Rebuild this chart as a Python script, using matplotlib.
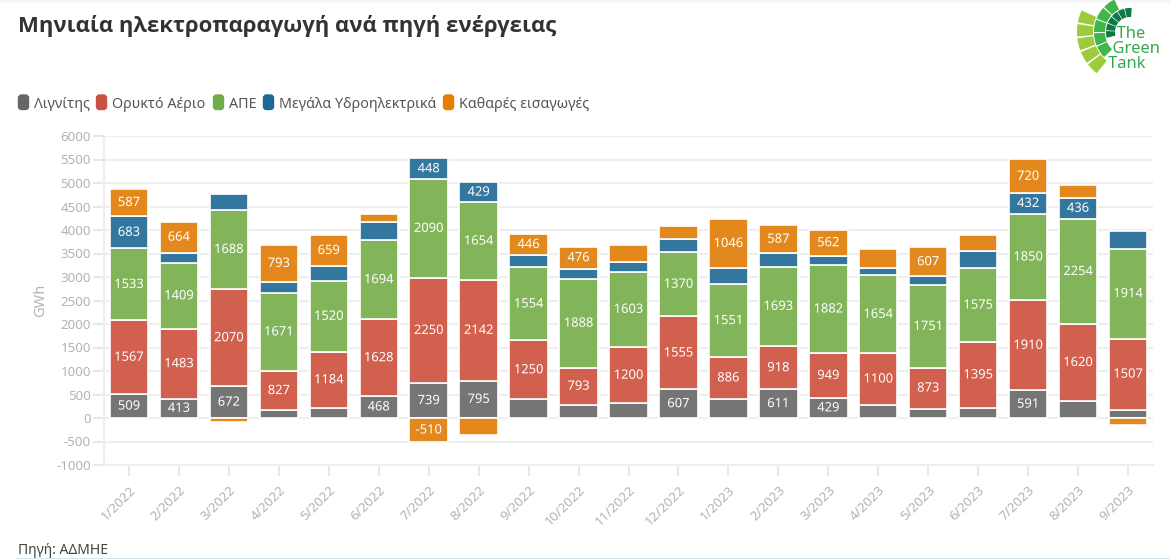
# -*- coding: utf-8 -*-
import numpy as np
import matplotlib
matplotlib.use("Agg")
import matplotlib.pyplot as plt
import matplotlib.patheffects as pe
from matplotlib.patches import FancyBboxPatch, Wedge, Rectangle

plt.rcParams['font.family'] = ['Noto Sans', 'DejaVu Sans']
plt.rcParams['axes.unicode_minus'] = False

months = ['1/2022', '2/2022', '3/2022', '4/2022', '5/2022', '6/2022', '7/2022',
          '8/2022', '9/2022', '10/2022', '11/2022', '12/2022', '1/2023', '2/2023',
          '3/2023', '4/2023', '5/2023', '6/2023', '7/2023', '8/2023', '9/2023']

lignite = [509, 413, 672, 170, 220, 468, 739, 795, 400, 280, 310, 607, 410, 611, 429, 280, 200, 220, 591, 370, 180]
gas = [1567, 1483, 2070, 827, 1184, 1628, 2250, 2142, 1250, 793, 1200, 1555, 886, 918, 949, 1100, 873, 1395, 1910, 1620, 1507]
res = [1533, 1409, 1688, 1671, 1520, 1694, 2090, 1654, 1554, 1888, 1603, 1370, 1551, 1693, 1882, 1654, 1751, 1575, 1850, 2254, 1914]
hydro = [683, 210, 336, 226, 310, 380, 448, 429, 264, 210, 206, 276, 344, 288, 187, 157, 197, 363, 432, 436, 378]
imports = [587, 664, -90, 793, 659, 170, -510, -370, 446, 476, 360, 277, 1046, 587, 562, 405, 607, 341, 720, 277, -150]

series_names = ['Λιγνίτης', 'Ορυκτό Αέριο', 'ΑΠΕ', 'Μεγάλα Υδροηλεκτρικά', 'Καθαρές εισαγωγές']
legend_colors = ['#666666', '#cd5141', '#70ad47', '#1a6a96', '#e67e00']
bar_colors = ['#757575', '#d2604f', '#82b55a', '#33779f', '#e3881c']
yticks = list(range(-1000, 6500, 500))

W, H = 1170, 559
fig = plt.figure(figsize=(W / 100, H / 100), dpi=100)

# overlay in pixel coordinates for legend, logo and page furniture
bg = fig.add_axes([0, 0, 1, 1], zorder=0)
bg.set_xlim(0, W)
bg.set_ylim(H, 0)
bg.axis('off')
bg.add_patch(Rectangle((0, 0), W, 3, color='#f7f7f7', lw=0))
bg.add_patch(Rectangle((15, 557.5), W - 15, 1.5, color='#d5e6ee', lw=0))

ax = fig.add_axes([104 / W, 1 - 465 / H, 1049 / W, 329 / H], zorder=1)
ax.patch.set_alpha(0)
ax.set_xlim(-0.5, 20.5)
ax.set_ylim(-1000, 6000)

x = np.arange(len(months))
bottom = np.zeros(len(months))
for i, values in enumerate([lignite, gas, res, hydro, imports]):
    values = np.array(values, dtype=float)
    base = np.where(values < 0, 0, bottom)
    ax.bar(x, values, 0.77, bottom=base, color=bar_colors[i], edgecolor='white',
           linewidth=1.2, zorder=3)
    for xi, v, b in zip(x, values, base):
        if abs(v) > 412:
            ax.text(xi, b + v / 2, '%d' % v, ha='center', va='center', color='white',
                    fontsize=9.3, zorder=4,
                    path_effects=[pe.withStroke(linewidth=1.5, foreground=bar_colors[i])])
    bottom = bottom + np.where(values < 0, 0, values)

ax.set_yticks(yticks)
ax.set_xticks(x)
ax.set_xticklabels(months, rotation=45, ha='right', rotation_mode='anchor')
ax.tick_params(axis='both', colors='#e8e8e8', width=1.5, length=8, labelcolor='#b3b3b3', labelsize=9.6)
ax.tick_params(axis='x', pad=5)
ax.tick_params(axis='y', pad=1.5)
ax.grid(axis='y', color='#eeeeee', linewidth=1.6, zorder=0)
ax.set_axisbelow(True)
for side in ['top', 'right']:
    ax.spines[side].set_visible(False)
for side in ['left', 'bottom']:
    ax.spines[side].set_color('#eeeeee')
    ax.spines[side].set_linewidth(1.6)
ax.set_ylabel('GWh', color='#b3b3b3', fontsize=10.5, labelpad=6)

bg.text(18, 26, 'Μηνιαία ηλεκτροπαραγωγή ανά πηγή ενέργειας', fontsize=15.95, fontweight='bold',
        family=['Open Sans', 'DejaVu Sans'], color='#333333', ha='left', va='center')
bg.text(18, 551, 'Πηγή: ΑΔΜΗΕ', fontsize=10, color='#444444', ha='left', va='center')

# legend
lx = [18, 96, 213, 263, 443]
for name, col, px in zip(series_names, legend_colors, lx):
    bg.add_patch(FancyBboxPatch((px + 0.5, 95), 10, 14.5, boxstyle='round,pad=0,rounding_size=3',
                                fc=col, ec=col, lw=1))
    bg.text(px + 16, 104.5, name, fontsize=10.3, color='#555555', ha='left', va='center')

# logo
for r0, r1, a0, a1, n, col in [(37, 53, 128, 205, 5, '#9ccb3b'),
                               (25, 36, 135, 245, 5, '#3fb54a'),
                               (15, 24, 165, 275, 6, '#0b7a43')]:
    edges = np.linspace(a0, a1, n + 1)
    for k in range(n):
        bg.add_patch(Wedge((1130, 32), r1, edges[k] + 1, edges[k + 1] - 1, width=r1 - r0, fc=col, lw=0))
bg.text(1104, 49, '   The\n  Green\n Tank', fontsize=11.8, linespacing=0.95,
        color='#2fa84f', ha='left', va='center')

fig.savefig('out.png', dpi=100)
